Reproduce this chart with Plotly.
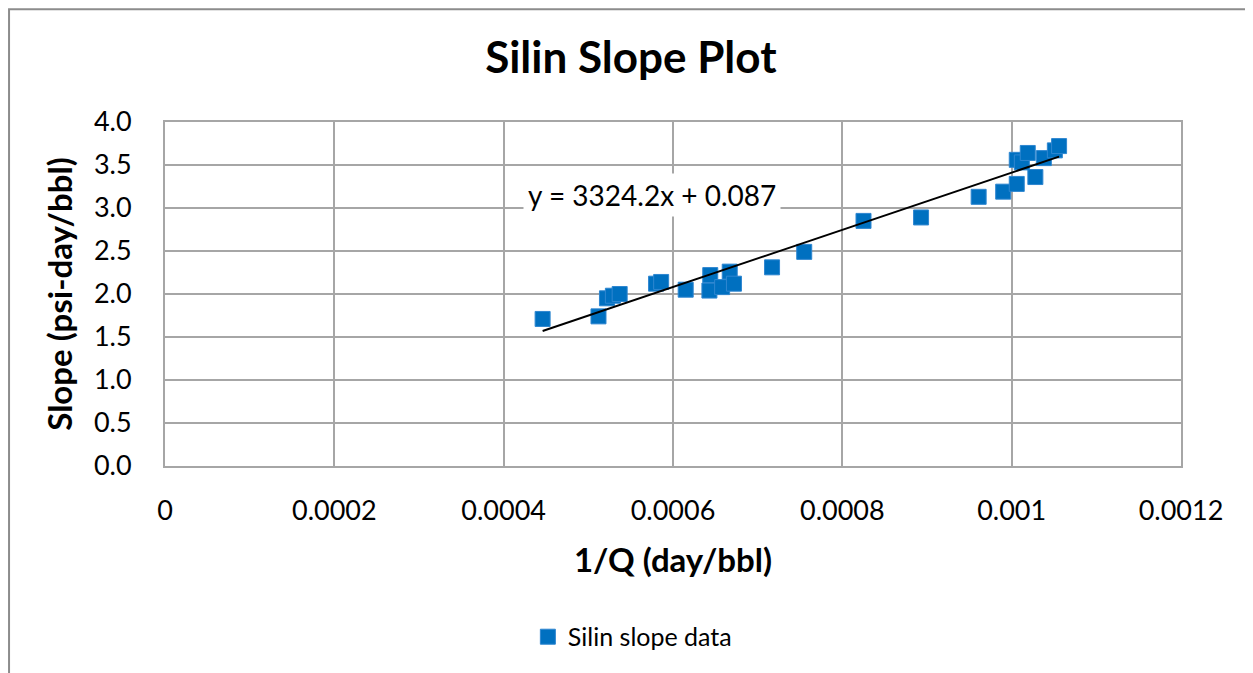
import plotly.graph_objects as go

# 1/Q (day/bbl) and Silin slope (psi-day/bbl)
inv_q = [0.000446, 0.000512, 0.000522, 0.000529, 0.000537, 0.000580, 0.000586,
         0.000615, 0.000643, 0.000644, 0.000658, 0.000667, 0.000672, 0.000717,
         0.000755, 0.000825, 0.000893, 0.000961, 0.000990, 0.001006, 0.001028,
         0.001006, 0.001012, 0.001019, 0.001038, 0.001051, 0.001056]
slope = [1.71, 1.74, 1.95, 1.98, 2.00, 2.12, 2.14,
         2.05, 2.04, 2.22, 2.08, 2.26, 2.12, 2.31,
         2.49, 2.85, 2.89, 3.13, 3.19, 3.28, 3.36,
         3.56, 3.53, 3.64, 3.58, 3.67, 3.72]

# linear trendline as shown on the chart
trend_m = 3324.2
trend_b = 0.087

x_ticks = [0, 0.0002, 0.0004, 0.0006, 0.0008, 0.001, 0.0012]
x_tick_text = ['0', '0.0002', '0.0004', '0.0006', '0.0008', '0.001', '0.0012']
y_ticks = [0.0, 0.5, 1.0, 1.5, 2.0, 2.5, 3.0, 3.5, 4.0]

x_lo, x_hi = min(inv_q), max(inv_q)
trend_x = [x_lo, x_hi]
trend_y = [trend_m * v + trend_b for v in trend_x]

font = 'Lato, Carlito, Calibri, sans-serif'
grid = '#a6a6a6'

fig = go.Figure()

fig.add_trace(go.Scatter(
    x=inv_q, y=slope, mode='markers', name='Silin slope data',
    marker=dict(symbol='square', size=15, color='#0070C0',
                line=dict(color='#2e86d0', width=1)),
))

fig.add_trace(go.Scatter(
    x=trend_x, y=trend_y, mode='lines', showlegend=False,
    line=dict(color='black', width=2),
))

fig.add_annotation(
    x=0.000575, y=3.15, xref='x', yref='y',
    text='y = 3324.2x + 0.087', showarrow=False,
    font=dict(family=font, size=28, color='black'),
    bgcolor='white', borderpad=4,
)

# outer chart border (only top and left visible in the frame)
fig.add_shape(type='rect', xref='paper', yref='paper',
              x0=-0.1535, x1=1.2, y0=-0.8, y1=1.328,
              line=dict(color='#8c8c8c', width=2), layer='below')

fig.update_layout(
    width=1245, height=665,
    margin=dict(l=157, r=72, t=114, b=207),
    paper_bgcolor='white', plot_bgcolor='white',
    font=dict(family=font, color='black'),
    title=dict(text='<b>Silin Slope Plot</b>', x=0.4585, xref='paper',
               xanchor='center', y=0.925, yanchor='middle',
               font=dict(size=44, family=font)),
    legend=dict(orientation='h', x=0.46, xanchor='center', y=-0.497,
                yanchor='middle', font=dict(size=25, family=font),
                itemwidth=30),
    showlegend=True,
)

fig.update_xaxes(
    range=[0, 0.0012], tickvals=x_ticks, ticktext=x_tick_text,
    showgrid=True, gridcolor=grid, gridwidth=2,
    showline=True, linecolor=grid, linewidth=2, mirror=True,
    zeroline=False, ticks='', ticklabelstandoff=20,
    tickfont=dict(size=27),
    title=dict(text='<b>1/Q (day/bbl)</b>', font=dict(size=33), standoff=23),
)
fig.update_yaxes(
    range=[0, 4.0], tickvals=y_ticks, tickformat='.1f',
    showgrid=True, gridcolor=grid, gridwidth=2,
    showline=True, linecolor=grid, linewidth=2, mirror=True,
    zeroline=False, ticks='', ticklabelstandoff=26,
    tickfont=dict(size=27),
    title=dict(text='<b>Slope (psi-day/bbl)</b>', font=dict(size=33), standoff=11),
)

fig.write_html('out.html')
